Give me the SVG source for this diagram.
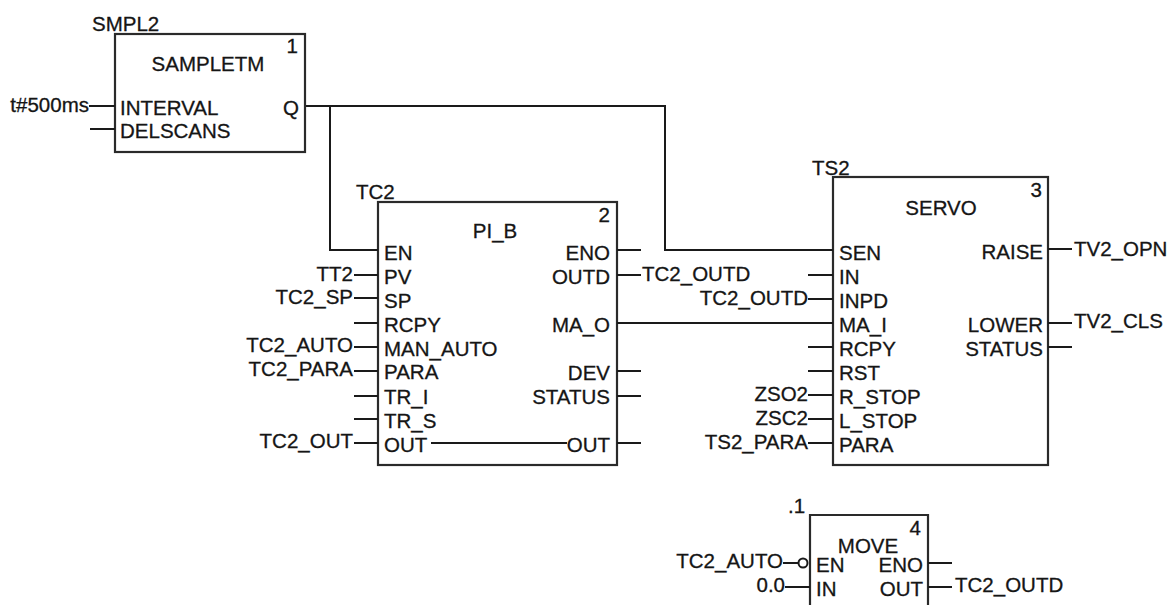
<svg xmlns="http://www.w3.org/2000/svg" width="1168" height="605" viewBox="0 0 1168 605">
<style>
text{font-family:"Liberation Sans",Arial,sans-serif;font-size:20.5px;fill:#151515;stroke:#151515;stroke-width:.3}
.e{text-anchor:end}.m{text-anchor:middle}
.b{fill:#fff;stroke:#2a2a2a;stroke-width:2.2}
.w{fill:none;stroke:#1a1a1a;stroke-width:2}
</style>
<rect width="1168" height="605" fill="#fff"/>
<g id="block-1">
<rect class="b" x="115" y="34" width="190" height="118"/>
<text x="92" y="31">SMPL2</text>
<text x="298" y="53" class="e">1</text>
<text x="208" y="71" class="m">SAMPLETM</text>
<text x="120" y="115">INTERVAL</text>
<text x="120" y="138">DELSCANS</text>
<text x="299" y="115" class="e">Q</text>
<text x="89" y="112" class="e">t#500ms</text>
</g>
<g id="block-2">
<rect class="b" x="378" y="202" width="239" height="263"/>
<text x="356" y="199">TC2</text>
<text x="610" y="222" class="e">2</text>
<text x="495" y="238" class="m">PI_B</text>
<text x="384" y="260">EN</text>
<text x="384" y="284">PV</text>
<text x="384" y="308">SP</text>
<text x="384" y="332">RCPY</text>
<text x="384" y="356">MAN_AUTO</text>
<text x="384" y="379">PARA</text>
<text x="384" y="404">TR_I</text>
<text x="384" y="428">TR_S</text>
<text x="384" y="452">OUT</text>
<text x="610" y="260" class="e">ENO</text>
<text x="610" y="284" class="e">OUTD</text>
<text x="610" y="332" class="e">MA_O</text>
<text x="610" y="380" class="e">DEV</text>
<text x="610" y="404" class="e">STATUS</text>
<text x="610" y="452" class="e">OUT</text>
<text x="353" y="281" class="e">TT2</text>
<text x="353" y="304" class="e">TC2_SP</text>
<text x="353" y="352" class="e">TC2_AUTO</text>
<text x="353" y="376" class="e">TC2_PARA</text>
<text x="353" y="448" class="e">TC2_OUT</text>
<text x="642" y="281">TC2_OUTD</text>
</g>
<g id="block-3">
<rect class="b" x="833" y="177" width="215" height="288"/>
<text x="812" y="175">TS2</text>
<text x="1042" y="197" class="e">3</text>
<text x="941" y="215" class="m">SERVO</text>
<text x="839" y="260">SEN</text>
<text x="839" y="284">IN</text>
<text x="839" y="308">INPD</text>
<text x="839" y="332">MA_I</text>
<text x="839" y="356">RCPY</text>
<text x="839" y="380">RST</text>
<text x="839" y="404">R_STOP</text>
<text x="839" y="428">L_STOP</text>
<text x="839" y="452">PARA</text>
<text x="1043" y="259" class="e">RAISE</text>
<text x="1043" y="332" class="e">LOWER</text>
<text x="1043" y="356" class="e">STATUS</text>
<text x="808" y="305" class="e">TC2_OUTD</text>
<text x="808" y="401" class="e">ZSO2</text>
<text x="808" y="425" class="e">ZSC2</text>
<text x="808" y="449" class="e">TS2_PARA</text>
<text x="1074" y="256">TV2_OPN</text>
<text x="1074" y="328">TV2_CLS</text>
</g>
<g id="block-4">
<path class="b" d="M810 606V515H928V606"/>
<text x="788" y="513">.1</text>
<text x="921" y="535" class="e">4</text>
<text x="868" y="553" class="m">MOVE</text>
<text x="816" y="572">EN</text>
<text x="816" y="596">IN</text>
<text x="923" y="572" class="e">ENO</text>
<text x="923" y="596" class="e">OUT</text>
<text x="783" y="568" class="e">TC2_AUTO</text>
<text x="785" y="592" class="e">0.0</text>
<text x="955" y="592">TC2_OUTD</text>
</g>
<g id="connectors">
<path class="w" d="M306 106H665V250H833M330 106V250H378"/>
<path class="w" d="M89 106H115M90 129H115"/>
<path class="w" d="M354 275H378M354 298H378M354 323H378M354 347H378M354 371H378M354 396H378M354 419H378M354 443H378"/>
<path class="w" d="M431 443H567"/>
<path class="w" d="M617 250H641M617 275H641M617 323H833M617 371H641M617 396H641M617 443H641"/>
<path class="w" d="M808 275H833M808 299H833M808 347H833M808 371H833M808 395H833M808 419H833M808 443H833"/>
<path class="w" d="M1048 249H1072M1048 323H1072M1048 347H1072"/>
<path class="w" d="M783 563H798M785 587H810M928 563H952M928 587H952"/>
<circle cx="803" cy="563" r="4.5" fill="#fff" stroke="#1a1a1a" stroke-width="2"/>
</g>
</svg>
